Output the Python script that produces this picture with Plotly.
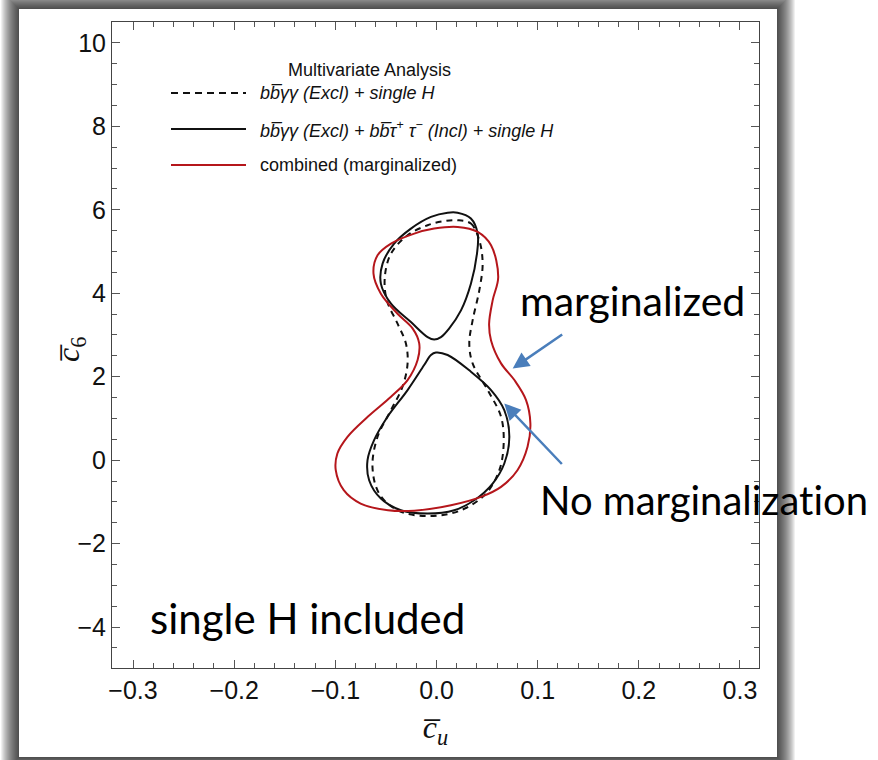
import plotly.graph_objects as go

# ---- contour data (c_u, c_6) ----
# combined fit, marginalized (red)
red_cu = [0.021, 0.0407, 0.0539, 0.061, 0.0555, 0.052, 0.0539, 0.0638, 0.077, 0.0885,
          0.0928, 0.090, 0.080, 0.0638, 0.044, 0.0143, -0.022, -0.048, -0.075, -0.0917,
          -0.0996, -0.098, -0.088, -0.068, -0.045, -0.0286, -0.0187, -0.0171, -0.0237,
          -0.0385, -0.055, -0.0623, -0.0583, -0.045, -0.022, -0.0023, 0.021]
red_c6 = [5.59, 5.47, 5.15, 4.39, 3.83, 3.27, 2.87, 2.32, 1.92, 1.44,
          0.88, 0.32, -0.24, -0.64, -0.88, -1.08, -1.21, -1.20, -1.04, -0.72,
          -0.24, 0.16, 0.56, 1.04, 1.52, 1.92, 2.40, 2.80, 3.16,
          3.51, 3.99, 4.47, 4.91, 5.19, 5.43, 5.55, 5.59]

# bb-gamma-gamma (Excl) + bb-tau-tau (Incl) + single H (solid, two islands)
upper_cu = [-0.0023, -0.0088, -0.0253, -0.045, -0.055, -0.0533, -0.0419, -0.0253, -0.0055,
            0.011, 0.0208, 0.034, 0.0407, 0.040, 0.034, 0.0242, 0.0126, 0.0044, -0.0023]
upper_c6 = [2.89, 2.95, 3.31, 3.75, 4.23, 4.71, 5.19, 5.55, 5.83,
            5.93, 5.93, 5.79, 5.43, 4.95, 4.23, 3.59, 3.16, 2.95, 2.89]
lower_cu = [-0.0006, 0.011, 0.034, 0.0539, 0.067, 0.072, 0.067, 0.0555, 0.0373, 0.0175,
            -0.0088, -0.0352, -0.055, -0.0666, -0.0682, -0.0617, -0.0484, -0.0286, -0.0122,
            -0.0055, -0.0006]
lower_c6 = [2.58, 2.52, 2.12, 1.68, 1.20, 0.56, -0.08, -0.56, -0.96, -1.20,
            -1.28, -1.20, -0.92, -0.48, 0.0, 0.48, 1.04, 1.68, 2.28,
            2.52, 2.58]

# bb-gamma-gamma (Excl) + single H (dashed)
dash_cu = [0.0208, 0.034, 0.0423, 0.0456, 0.0423, 0.0357, 0.0324, 0.0357, 0.0506, 0.0638,
           0.0664, 0.0621, 0.0489, 0.0242, -0.0088, -0.0385, -0.0567, -0.0633, -0.0583,
           -0.045, -0.0336, -0.0286, -0.0303, -0.0385, -0.0491, -0.0511, -0.045, -0.0286,
           -0.0088, 0.0076, 0.0208]
dash_c6 = [5.75, 5.67, 5.27, 4.71, 4.07, 3.35, 2.80, 2.32, 1.68, 1.04,
           0.40, -0.24, -0.80, -1.20, -1.34, -1.20, -0.80, -0.16, 0.56,
           1.20, 1.76, 2.32, 2.80, 3.27, 3.83, 4.39, 4.95, 5.39,
           5.63, 5.73, 5.75]

legend_title = "Multivariate Analysis"
legend_labels = [
    "<i>bb\u0305γγ (Excl) + single H</i>",
    "<i>bb\u0305γγ (Excl) + bb\u0305τ<sup>+</sup> τ<sup>−</sup> (Incl) + single H</i>",
    "combined (marginalized)",
]

X_RANGE = [-0.3208, 0.3188]
Y_RANGE = [-4.98, 10.5]

BLACK = "#111111"
RED = "#b5161b"
BLUE = "#4a7ebb"

fig = go.Figure()

fig.add_trace(go.Scatter(x=dash_cu, y=dash_c6, mode="lines", name="bbγγ + single H",
                         line=dict(color=BLACK, width=2, dash="6px,5px", shape="spline", smoothing=1.0),
                         showlegend=False))
fig.add_trace(go.Scatter(x=upper_cu + [None] + lower_cu, y=upper_c6 + [None] + lower_c6,
                         mode="lines", name="bbγγ + bbττ + single H", connectgaps=False,
                         line=dict(color=BLACK, width=2, shape="spline", smoothing=1.0),
                         showlegend=False))
fig.add_trace(go.Scatter(x=red_cu, y=red_c6, mode="lines", name="combined (marginalized)",
                         line=dict(color=RED, width=2, shape="spline", smoothing=1.0),
                         showlegend=False))

# ---- page layout in pixels ----
W, H = 878, 760
L, R, T, B = 112, 759, 22, 668


def px_x(p):
    return (p - L) / (R - L)


def px_y(p):
    return (B - p) / (B - T)


shapes = []
# soft drop shadow around the white card
card = (19, 9, 777, 757)
spread = 18
for i in range(spread, 0, -1):
    shapes.append(dict(type="rect", xref="paper", yref="paper", layer="below",
                       x0=px_x(card[0] - i), x1=px_x(card[2] + i),
                       y0=px_y(card[3] + i), y1=px_y(card[1] - i),
                       line=dict(width=0), fillcolor="rgba(0,0,0,0.06)"))
shapes.append(dict(type="rect", xref="paper", yref="paper", layer="below",
                   x0=px_x(card[0]), x1=px_x(card[2]), y0=px_y(card[3]), y1=px_y(card[1]),
                   line=dict(width=0), fillcolor="white"))

# legend samples
leg_rows = [93, 129, 165]
leg_styles = [dict(color=BLACK, width=2, dash="7px,5px"),
              dict(color=BLACK, width=2),
              dict(color=RED, width=2)]
for yy, st in zip(leg_rows, leg_styles):
    shapes.append(dict(type="line", xref="paper", yref="paper",
                       x0=px_x(171), x1=px_x(246), y0=px_y(yy), y1=px_y(yy), line=st))

leg_font = dict(family="Liberation Sans", size=18, color="#111")
annotations = []
annotations.append(dict(xref="paper", yref="paper", x=px_x(369), y=px_y(70), text=legend_title,
                        showarrow=False, xanchor="center", yanchor="middle", font=leg_font))
for yy, lab in zip(leg_rows, legend_labels):
    annotations.append(dict(xref="paper", yref="paper", x=px_x(258), y=px_y(yy), text=lab,
                            showarrow=False, xanchor="left", yanchor="middle", font=leg_font))

# slide call-outs
annotations.append(dict(xref="paper", yref="paper", x=px_x(518), y=px_y(300), text="marginalized",
                        showarrow=False, xanchor="left", yanchor="middle",
                        font=dict(family="Lato", size=41, color="#000")))
annotations.append(dict(xref="paper", yref="paper", x=px_x(538), y=px_y(500),
                        text="No marginalizat\u200cion",
                        showarrow=False, xanchor="left", yanchor="middle",
                        font=dict(family="Lato", size=40, color="#000")))
annotations.append(dict(xref="paper", yref="paper", x=px_x(148), y=px_y(618), text="single H included",
                        showarrow=False, xanchor="left", yanchor="middle",
                        font=dict(family="Lato", size=42, color="#000")))

# pointer arrows
annotations.append(dict(x=0.0753, y=2.197, xref="x", yref="y", ax=51, ay=-35, axref="pixel", ayref="pixel",
                        text="", showarrow=True, arrowhead=2, arrowsize=1.3, arrowwidth=2.5,
                        arrowcolor=BLUE))
annotations.append(dict(x=0.067, y=1.358, xref="x", yref="y", ax=59, ay=62, axref="pixel", ayref="pixel",
                        text="", showarrow=True, arrowhead=2, arrowsize=1.3, arrowwidth=2.5,
                        arrowcolor=BLUE))

# vertical axis title
annotations.append(dict(xref="paper", yref="paper", x=px_x(70), y=px_y(350),
                        text="<i>c\u0305</i><sub>6</sub>", textangle=-90, showarrow=False,
                        xanchor="center", yanchor="middle",
                        font=dict(family="Liberation Serif", size=32, color="#111")))

axis_common = dict(showline=True, linecolor="#444", linewidth=1, mirror="ticks",
                   ticks="inside", tickcolor="#555", tickwidth=1, showgrid=False, zeroline=False,
                   tickfont=dict(family="Liberation Sans", size=25, color="#111"))

fig.update_layout(
    width=W, height=H,
    margin=dict(l=L, r=W - R, t=T, b=H - B, pad=0),
    paper_bgcolor="white", plot_bgcolor="white",
    showlegend=False,
    shapes=shapes, annotations=annotations,
    xaxis=dict(range=X_RANGE, tickvals=[-0.3, -0.2, -0.1, 0.0, 0.1, 0.2, 0.3],
               ticktext=["−0.3", "−0.2", "−0.1", "0.0", "0.1", "0.2", "0.3"], ticklen=8,
               minor=dict(dtick=0.02, tick0=0, ticks="inside", ticklen=5, tickcolor="#555"),
               title=dict(text="<i>c\u0305</i><sub><i>u</i></sub>", standoff=12,
                          font=dict(family="Liberation Serif", size=32, color="#111")),
               **axis_common),
    yaxis=dict(range=Y_RANGE, tickvals=[-4, -2, 0, 2, 4, 6, 8, 10], ticklen=8,
               ticktext=["−4", "−2", "0", "2", "4", "6", "8", "10"],
               minor=dict(dtick=0.5, tick0=0, ticks="inside", ticklen=5, tickcolor="#555"),
               **axis_common),
)

fig.write_html("out.html")
